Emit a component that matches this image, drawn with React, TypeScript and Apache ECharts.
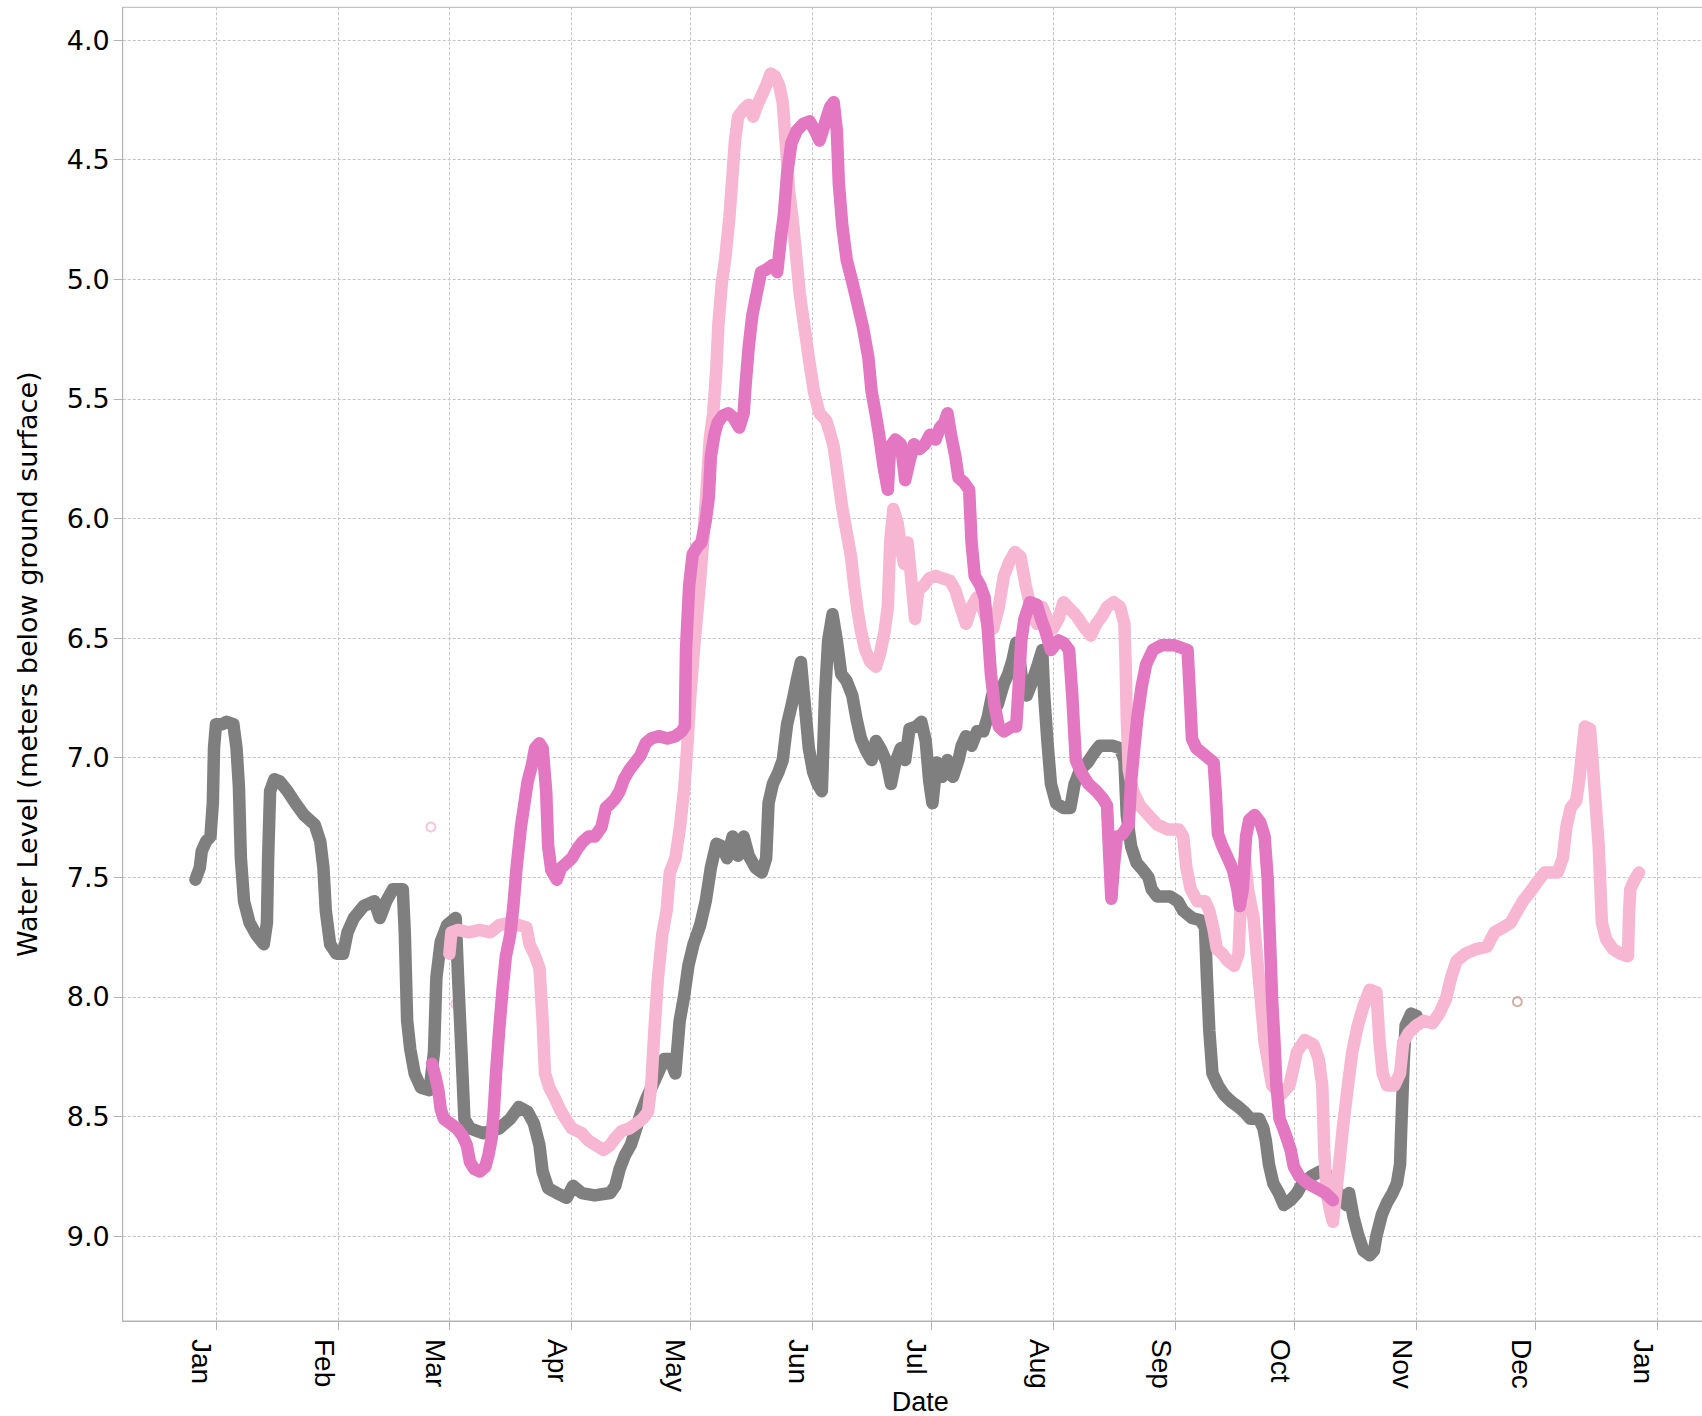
import { useEffect, useRef } from "react";
import * as echarts from "echarts";

// Month tick labels
const monthLabels = ["Jan", "Feb", "Mar", "Apr", "May", "Jun", "Jul", "Aug", "Sep", "Oct", "Nov", "Dec", "Jan"];
// Y tick values (meters below ground surface)
const levelTicks = [4.0, 4.5, 5.0, 5.5, 6.0, 6.5, 7.0, 7.5, 8.0, 8.5, 9.0];

// Each point: [day of year (0 = Jan 1), water level in m below ground surface]
const grayPoints: [number, number][] = [
  [-5.2,7.51],[-4.1,7.46],[-3.6,7.39],[-2.5,7.35],[-1.4,7.33],[-0.8,7.19],[-0.5,6.96],[0.0,6.86],[1.6,6.86],[2.7,6.85],[4.4,6.86],[5.2,6.96],[5.8,7.12],[6.3,7.42],[7.1,7.60],[8.5,7.69],[10.2,7.74],[12.1,7.78],[12.9,7.69],[13.2,7.42],[13.7,7.14],[14.8,7.09],[16.2,7.10],[18.1,7.14],[20.1,7.19],[22.3,7.24],[25.0,7.28],[26.4,7.35],[27.2,7.46],[27.8,7.64],[28.9,7.78],[30.5,7.82],[32.2,7.82],[33.3,7.73],[34.9,7.67],[37.4,7.62],[40.1,7.60],[41.5,7.67],[43.1,7.60],[44.8,7.55],[47.3,7.55],[47.8,7.73],[48.4,8.10],[49.2,8.22],[50.3,8.32],[51.9,8.38],[54.1,8.39],[55.2,8.23],[55.8,7.92],[56.9,7.77],[58.5,7.70],[60.7,7.67],[61.3,7.92],[62.1,8.21],[62.9,8.51],[64.3,8.55],[67.6,8.57],[71.7,8.55],[74.5,8.51],[76.7,8.46],[78.9,8.48],[80.5,8.53],[81.9,8.62],[82.7,8.73],[84.1,8.80],[86.3,8.82],[88.8,8.84],[90.4,8.79],[92.6,8.82],[95.9,8.83],[99.8,8.82],[101.1,8.79],[102.2,8.72],[103.6,8.66],[105.0,8.62],[106.4,8.55],[107.7,8.48],[109.1,8.42],[110.5,8.37],[111.9,8.32],[113.5,8.26],[114.9,8.26],[116.3,8.32],[117.4,8.10],[118.5,8.00],[119.6,7.87],[120.9,7.78],[122.6,7.70],[124.0,7.60],[125.3,7.46],[126.7,7.36],[128.1,7.37],[129.4,7.42],[130.8,7.33],[132.2,7.41],[133.6,7.33],[134.9,7.41],[136.6,7.46],[138.2,7.48],[139.3,7.42],[139.9,7.19],[141.0,7.11],[142.4,7.06],[143.5,7.01],[144.6,6.86],[145.9,6.77],[147.0,6.68],[148.1,6.60],[149.2,6.80],[150.1,6.96],[151.2,7.06],[152.3,7.11],[153.4,7.14],[154.2,6.74],[155.0,6.51],[156.1,6.40],[157.2,6.51],[158.3,6.65],[159.7,6.68],[161.1,6.74],[162.2,6.84],[163.3,6.92],[164.6,6.97],[166.0,7.01],[167.1,6.93],[168.5,6.97],[169.8,7.02],[170.9,7.11],[172.0,7.02],[173.4,6.96],[174.5,7.01],[175.6,6.88],[177.3,6.87],[178.6,6.85],[179.7,6.93],[180.6,7.10],[181.4,7.19],[182.5,7.02],[183.9,7.08],[185.2,7.01],[186.6,7.08],[188.0,7.01],[188.8,6.95],[189.9,6.91],[191.3,6.95],[192.7,6.89],[194.3,6.89],[195.4,6.83],[196.5,6.74],[197.9,6.78],[199.5,6.69],[200.6,6.65],[201.7,6.59],[202.6,6.52],[203.4,6.58],[204.2,6.69],[205.3,6.74],[206.7,6.68],[208.1,6.61],[209.2,6.55],[209.7,6.74],[210.5,6.93],[211.4,7.11],[212.7,7.19],[214.6,7.21],[216.3,7.21],[217.4,7.11],[218.8,7.05],[220.7,7.02],[222.3,6.98],[223.7,6.95],[227.0,6.95],[228.9,6.96],[230.0,7.01],[230.6,7.24],[231.7,7.37],[233.1,7.44],[234.7,7.47],[236.1,7.50],[236.9,7.55],[238.3,7.58],[241.6,7.58],[243.5,7.60],[244.9,7.64],[247.1,7.67],[249.3,7.68],[250.4,7.71],[250.9,7.92],[251.5,8.14],[252.3,8.32],[253.7,8.37],[255.3,8.41],[257.2,8.44],[258.9,8.46],[260.3,8.48],[261.9,8.51],[264.1,8.51],[265.2,8.55],[265.8,8.60],[266.6,8.70],[267.7,8.78],[269.1,8.82],[270.4,8.87],[272.1,8.85],[273.7,8.82],[275.1,8.78],[277.3,8.75],[279.5,8.73],[281.2,8.74],[282.8,8.79],[284.7,8.83],[286.1,8.87],[286.9,8.82],[288.0,8.92],[289.1,8.99],[290.5,9.06],[292.1,9.08],[293.2,9.06],[293.8,9.00],[295.2,8.91],[296.5,8.86],[297.9,8.82],[299.0,8.78],[299.8,8.70],[300.1,8.55],[300.7,8.28],[301.2,8.12],[302.6,8.07],[304.0,8.08]
];

const lightPinkPoints: [number, number][] = [
  [59.1,7.82],[59.6,7.73],[61.3,7.72],[64.0,7.73],[66.8,7.72],[69.5,7.73],[71.7,7.70],[74.5,7.69],[76.7,7.70],[78.6,7.71],[79.4,7.78],[80.8,7.83],[81.9,7.88],[82.7,8.10],[83.3,8.32],[84.4,8.38],[85.7,8.42],[87.1,8.47],[88.5,8.51],[90.1,8.55],[92.6,8.57],[94.3,8.60],[96.2,8.62],[98.1,8.64],[99.8,8.62],[101.1,8.59],[102.8,8.56],[104.7,8.55],[106.4,8.53],[108.0,8.51],[109.4,8.48],[110.2,8.37],[111.0,8.14],[111.9,7.92],[113.0,7.74],[114.1,7.64],[114.9,7.48],[116.3,7.42],[117.4,7.30],[118.5,7.14],[119.3,6.96],[120.1,6.74],[121.2,6.51],[122.0,6.37],[123.1,6.15],[124.2,5.88],[125.0,5.67],[125.9,5.56],[126.7,5.37],[127.2,5.19],[128.1,5.01],[128.9,4.92],[130.0,4.74],[130.8,4.56],[131.4,4.42],[132.2,4.32],[133.6,4.29],[134.9,4.27],[136.0,4.32],[137.1,4.27],[138.2,4.23],[139.3,4.19],[140.4,4.14],[141.5,4.15],[142.6,4.19],[143.5,4.26],[144.3,4.44],[145.1,4.63],[146.2,4.78],[147.0,4.92],[147.8,5.06],[148.9,5.19],[150.1,5.33],[151.4,5.47],[152.8,5.56],[154.5,5.59],[155.6,5.65],[156.4,5.70],[157.5,5.83],[158.6,5.96],[159.7,6.06],[160.8,6.16],[161.6,6.28],[162.4,6.38],[163.3,6.47],[164.4,6.55],[165.7,6.60],[167.1,6.62],[168.2,6.56],[169.3,6.47],[170.1,6.37],[170.7,6.10],[171.5,5.96],[172.6,6.02],[173.4,6.12],[174.2,6.19],[175.1,6.10],[176.2,6.28],[177.0,6.42],[177.8,6.30],[179.2,6.28],[180.6,6.25],[182.2,6.24],[183.9,6.25],[185.8,6.26],[187.2,6.30],[188.5,6.37],[189.9,6.44],[191.3,6.37],[192.7,6.33],[194.0,6.37],[195.4,6.44],[196.8,6.46],[198.2,6.37],[199.5,6.24],[200.9,6.18],[202.3,6.14],[203.7,6.16],[205.0,6.28],[206.4,6.38],[207.8,6.44],[209.2,6.37],[210.5,6.42],[211.9,6.46],[213.3,6.42],[214.6,6.35],[216.3,6.38],[218.0,6.41],[219.6,6.45],[221.5,6.49],[222.9,6.44],[224.3,6.41],[225.6,6.37],[227.3,6.35],[228.9,6.37],[230.0,6.44],[230.3,6.60],[230.6,6.83],[231.1,7.05],[232.2,7.14],[233.9,7.20],[236.1,7.24],[238.3,7.28],[241.0,7.30],[243.8,7.30],[244.9,7.33],[245.7,7.46],[246.8,7.55],[248.5,7.60],[250.4,7.60],[251.5,7.64],[252.6,7.72],[253.4,7.80],[254.8,7.82],[256.2,7.85],[257.8,7.87],[258.9,7.82],[259.7,7.51],[260.5,7.42],[261.3,7.55],[262.7,7.67],[263.5,7.82],[265.5,8.19],[267.4,8.37],[269.6,8.41],[271.8,8.37],[273.7,8.23],[275.7,8.18],[277.9,8.20],[279.2,8.26],[280.1,8.37],[280.6,8.64],[281.2,8.82],[282.3,8.91],[282.8,8.94],[284.2,8.73],[285.3,8.55],[286.6,8.37],[287.7,8.23],[289.1,8.12],[290.5,8.04],[292.1,7.97],[293.8,7.98],[294.6,8.19],[295.4,8.32],[296.5,8.37],[298.4,8.37],[299.8,8.32],[300.6,8.19],[302.0,8.15],[303.9,8.12],[305.8,8.10],[308.0,8.11],[309.7,8.07],[311.4,8.01],[312.7,7.92],[314.1,7.85],[316.3,7.82],[319.1,7.80],[321.8,7.79],[323.7,7.73],[325.9,7.71],[327.8,7.69],[329.5,7.64],[330.9,7.60],[332.8,7.56],[334.5,7.52],[336.4,7.48],[339.7,7.48],[341.0,7.42],[341.9,7.29],[343.0,7.21],[344.4,7.18],[345.2,7.09],[346.0,6.96],[346.6,6.87],[347.9,6.88],[348.7,7.05],[349.3,7.19],[350.1,7.37],[350.9,7.69],[352.0,7.76],[353.7,7.80],[355.6,7.82],[357.5,7.83],[357.8,7.64],[358.1,7.55],[359.2,7.51],[360.3,7.48]
];
const lightPinkSingles: [number, number][] = [[54.4, 7.29], [60.7, 8.03]];

const pinkPoints: [number, number][] = [
  [54.7,8.28],[55.5,8.33],[56.3,8.39],[56.9,8.47],[57.7,8.51],[59.4,8.53],[61.0,8.55],[62.4,8.58],[63.5,8.62],[64.3,8.69],[65.4,8.72],[66.8,8.73],[68.2,8.71],[69.0,8.66],[69.8,8.59],[70.4,8.46],[70.9,8.32],[71.7,8.14],[72.6,7.96],[73.4,7.83],[74.5,7.74],[75.3,7.62],[76.1,7.46],[77.2,7.29],[78.1,7.19],[78.9,7.10],[80.0,7.03],[80.8,6.96],[81.9,6.94],[82.7,6.96],[83.6,7.14],[84.1,7.37],[84.9,7.47],[86.3,7.51],[87.4,7.46],[88.8,7.44],[90.1,7.42],[91.5,7.38],[92.9,7.35],[94.3,7.33],[95.9,7.33],[97.6,7.29],[98.7,7.21],[100.0,7.19],[101.1,7.17],[102.2,7.14],[103.3,7.09],[104.7,7.05],[106.1,7.02],[107.5,6.99],[108.8,6.94],[110.2,6.92],[112.1,6.91],[114.3,6.92],[116.3,6.91],[117.9,6.89],[118.7,6.87],[119.0,6.55],[119.8,6.28],[120.7,6.15],[121.8,6.12],[122.9,6.10],[124.0,6.01],[124.8,5.91],[125.3,5.74],[126.2,5.65],[127.0,5.60],[128.3,5.57],[129.7,5.56],[131.1,5.58],[132.5,5.62],[133.6,5.56],[134.1,5.44],[134.9,5.28],[135.8,5.15],[136.9,5.06],[138.0,4.97],[139.3,4.96],[141.0,4.94],[142.1,4.97],[143.0,4.83],[143.8,4.73],[144.6,4.56],[145.7,4.43],[147.0,4.38],[148.7,4.35],[150.3,4.34],[151.7,4.38],[152.8,4.42],[153.6,4.38],[154.7,4.32],[155.5,4.28],[156.4,4.26],[157.2,4.38],[157.7,4.60],[158.6,4.78],[159.7,4.92],[161.1,5.01],[162.4,5.10],[163.8,5.20],[165.2,5.33],[166.0,5.47],[167.1,5.57],[167.9,5.65],[169.0,5.78],[170.1,5.88],[170.7,5.70],[172.0,5.67],[173.4,5.69],[174.5,5.84],[175.6,5.76],[176.7,5.69],[178.1,5.71],[179.5,5.69],[180.8,5.65],[182.2,5.67],[183.3,5.62],[184.4,5.60],[185.2,5.56],[186.1,5.65],[187.2,5.74],[188.0,5.83],[189.4,5.85],[190.7,5.88],[191.3,6.10],[192.1,6.24],[193.5,6.28],[194.6,6.33],[195.4,6.46],[196.2,6.65],[197.1,6.78],[198.2,6.87],[199.5,6.89],[201.5,6.87],[202.6,6.87],[203.1,6.74],[203.9,6.51],[204.7,6.42],[206.1,6.35],[207.8,6.36],[208.9,6.42],[210.0,6.47],[211.4,6.55],[213.3,6.51],[214.6,6.52],[216.0,6.55],[216.8,6.74],[217.7,7.01],[219.0,7.06],[220.9,7.11],[222.9,7.14],[224.5,7.17],[225.6,7.20],[226.2,7.42],[226.7,7.59],[227.3,7.46],[228.1,7.33],[229.5,7.32],[231.1,7.28],[231.7,7.10],[232.5,6.96],[233.3,6.83],[234.4,6.70],[235.5,6.61],[237.2,6.55],[239.4,6.53],[242.7,6.53],[246.0,6.55],[246.6,6.74],[247.1,6.92],[248.2,6.96],[250.4,6.99],[252.6,7.02],[253.1,7.14],[253.7,7.32],[254.8,7.37],[256.2,7.42],[257.5,7.47],[258.6,7.55],[259.2,7.62],[260.0,7.55],[260.8,7.33],[261.6,7.26],[263.0,7.24],[264.4,7.27],[265.5,7.33],[266.3,7.51],[266.9,7.78],[267.4,8.01],[268.0,8.19],[268.5,8.37],[269.3,8.51],[270.7,8.57],[272.1,8.64],[272.9,8.71],[274.3,8.75],[276.5,8.78],[278.7,8.80],[280.9,8.82],[282.8,8.85]
];

const brownSingles: [number, number][] = [[329.5, 8.02]];

// Month start positions in days since Jan 1 (from the calendar)
const DAY = 86400000;
const BASE = Date.UTC(2021, 0, 1);
const monthStarts = monthLabels.map((_, i) => (Date.UTC(2021, i, 1) - BASE) / DAY);

const GRAY = "#7f7f7f";
const LIGHT_PINK = "#f7b6d2";
const PINK = "#e377c2";
const BROWN = "#c49c94";
const AXIS = "#b3b3b3";
const GRID = "#c4c4c4";

function lineSeries(name: string, pts: [number, number][], color: string) {
  return {
    name,
    type: "line",
    data: pts,
    showSymbol: false,
    symbol: "none",
    silent: true,
    clip: true,
    emphasis: { disabled: true },
    lineStyle: { width: 12.5, color, cap: "round", join: "round" },
    itemStyle: { color },
  };
}

function pointSeries(name: string, pts: [number, number][], color: string) {
  return {
    name,
    type: "scatter",
    data: pts,
    symbol: "emptyCircle",
    symbolSize: 9,
    silent: true,
    emphasis: { disabled: true },
    itemStyle: { color, borderColor: color, borderWidth: 2.7 },
  };
}

export default function App() {
  const ref = useRef<HTMLDivElement>(null);
  useEffect(() => {
    if (!ref.current) return;
    const chart = echarts.init(ref.current, null, { renderer: "svg" });
    chart.setOption({
      animation: false,
      backgroundColor: "#ffffff",
      grid: {
        left: 122.7,
        top: 7.3,
        right: -16,
        bottom: 95,
        outerBoundsMode: "none",
        containLabel: false,
        show: true,
        borderColor: AXIS,
        borderWidth: 1,
        backgroundColor: "transparent",
      },
      xAxis: {
        type: "value",
        min: -23.62,
        max: 380.3,
        name: "Date",
        nameLocation: "middle",
        nameGap: 67,
        nameMoveOverlap: false,
        nameTextStyle: { fontFamily: "Liberation Sans", fontSize: 27, color: "#000" },
        axisLine: { show: true, onZero: false, lineStyle: { color: AXIS, width: 1 } },
        axisTick: { show: true, length: 9, lineStyle: { color: AXIS }, customValues: monthStarts },
        axisLabel: {
          customValues: monthStarts,
          formatter: (v: number) => {
            const i = monthStarts.findIndex((m) => Math.abs(m - v) < 0.01);
            return i >= 0 ? monthLabels[i] : "";
          },
          rotate: -90,
          verticalAlign: "top",
          margin: 18,
          fontFamily: "Liberation Sans",
          fontSize: 28,
          color: "#000",
          hideOverlap: false,
        },
        splitLine: { show: true, lineStyle: { color: GRID, type: [3, 2], width: 1 } },
      },
      yAxis: {
        type: "value",
        inverse: true,
        min: 3.863,
        max: 9.355,
        name: "Water Level (meters below ground surface)",
        nameLocation: "middle",
        nameGap: 82,
        nameMoveOverlap: false,
        nameTextStyle: { fontFamily: "DejaVu Sans", fontSize: 27, color: "#000" },
        axisLine: { show: true, onZero: false, lineStyle: { color: AXIS, width: 1 } },
        axisTick: { show: true, length: 9, lineStyle: { color: AXIS }, customValues: levelTicks },
        axisLabel: {
          customValues: levelTicks,
          formatter: (v: number) => v.toFixed(1),
          margin: 13,
          fontFamily: "DejaVu Sans",
          fontSize: 27,
          color: "#000",
        },
        splitLine: { show: true, lineStyle: { color: GRID, type: [3, 2], width: 1 } },
      },
      series: [
        lineSeries("gray", grayPoints, GRAY),
        lineSeries("lightPink", lightPinkPoints, LIGHT_PINK),
        pointSeries("lightPinkSingles", lightPinkSingles, LIGHT_PINK),
        lineSeries("pink", pinkPoints, PINK),
        pointSeries("brownSingles", brownSingles, BROWN),
      ],
    });
    return () => chart.dispose();
  }, []);
  return (
    <div
      ref={ref}
      style={{ position: "absolute", left: 0, top: 0, width: 1702, height: 1416 }}
    />
  );
}
